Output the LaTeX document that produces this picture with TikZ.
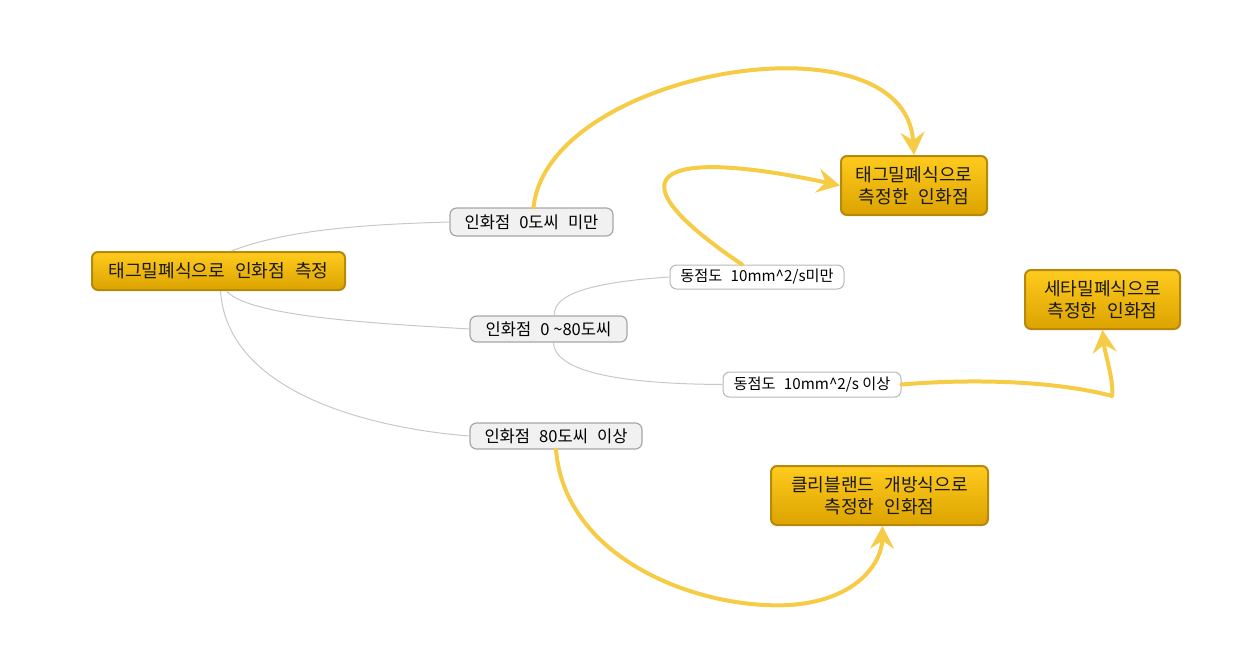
\documentclass[tikz,border=0pt]{standalone}
\usepackage{fontspec}
\setmainfont{Noto Sans CJK KR}
\usetikzlibrary{arrows.meta,calc}
\definecolor{arrowc}{HTML}{F6CB45}
\definecolor{goldtop}{HTML}{FFCB1E}
\definecolor{goldbot}{HTML}{DCA300}
\definecolor{goldline}{HTML}{B8880A}
\definecolor{linkc}{HTML}{C8C8C8}
\definecolor{lblfill}{HTML}{F1F1F1}
\definecolor{lblline}{HTML}{A6A6A6}
\newcommand{\wsp}{\hspace{0.55em}}
\tikzset{
  topic/.style={draw=goldline, line width=1.5pt, rounded corners=4.5pt,
    top color=goldtop, bottom color=goldbot, inner sep=0pt, align=center,
    font=\fontsize{13.6pt}{16.5pt}\selectfont, text=black!90},
  branch/.style={draw=lblline, line width=0.9pt, rounded corners=5pt, fill=lblfill,
    inner sep=0pt, font=\fontsize{12.4pt}{14pt}\selectfont},
  sub/.style={draw=lblline!80, line width=0.75pt, rounded corners=5pt, fill=white,
    inner sep=0pt, font=\fontsize{11.4pt}{13pt}\selectfont},
  link/.style={draw=linkc, line width=0.75pt},
  rel/.style={draw=arrowc, line width=3pt, line cap=round, line join=round,
    -{Stealth[length=17pt, width=18pt, inset=6pt]}},
}
\begin{document}
\begin{tikzpicture}[x=0.75pt,y=-0.75pt]
\useasboundingbox (0,0) rectangle (1259,660);
% nodes
\node[topic, minimum width=189.75pt, minimum height=28.5pt] (root) at (218.5,271) {태그밀폐식으로\wsp 인화점\wsp 측정};
\node[branch, minimum width=122.25pt, minimum height=21pt] (b1) at (531.5,222) {인화점\wsp 0도씨\wsp 미만};
\node[branch, minimum width=117.75pt, minimum height=19.5pt] (b2) at (548.5,329) {인화점\wsp 0 \textasciitilde80도씨};
\node[branch, minimum width=129pt, minimum height=19.5pt] (b3) at (556,436) {인화점\wsp 80도씨\wsp 이상};
\node[sub, minimum width=130.5pt, minimum height=18pt] (d1) at (757,277) {동점도\wsp 10mm\textasciicircum2/s미만};
\node[sub, minimum width=133.5pt, minimum height=18.75pt] (d2) at (812,384.5) {동점도\wsp 10mm\textasciicircum2/s 이상};
\node[topic, minimum width=109.5pt, minimum height=44.25pt] (t1) at (914,185.5) {태그밀폐식으로\\측정한\wsp 인화점};
\node[topic, minimum width=116.25pt, minimum height=44.25pt] (t2) at (1102.5,299.5) {세타밀폐식으로\\측정한\wsp 인화점};
\node[topic, minimum width=162.75pt, minimum height=44.25pt] (t3) at (879.5,495.5) {클리블랜드\wsp 개방식으로\\측정한\wsp 인화점};
% tree links
\draw[link] ($(root.north)+(13,0)$) .. controls (290,228) and (380,224) .. (b1.west);
\draw[link] ($(root.south)+(8,0)$) .. controls (250,318) and (390,324) .. (b2.west);
\draw[link] ($(root.south)+(2,0)$) .. controls (228,400) and (390,430) .. (b3.west);
\draw[link] ($(b2.north)+(6,0)$) .. controls (552,290) and (610,281) .. (d1.west);
\draw[link] ($(b2.south)+(5,0)$) .. controls (555,378) and (650,384) .. (d2.west);
% relationship arrows
\draw[rel] ($(b1.north)+(2,0)$) .. controls (548,70) and (905,10) .. (t1.north);
\draw[rel] ($(d1.north)+(-15,0)$) .. controls (595,165) and (675,150) .. (t1.west);
\draw[rel] (d2.east) .. controls (980,378) and (1060,382) .. (1112,396)
  coordinate (k3) .. controls (1114,380) and (1105,355) .. (t2.south);
\draw[rel] (b3.south) .. controls (565,560) and (700,610) .. (790,605)
  .. controls (860,600) and (882,560) .. ($(t3.south)+(3,0)$);
\end{tikzpicture}
\end{document}
